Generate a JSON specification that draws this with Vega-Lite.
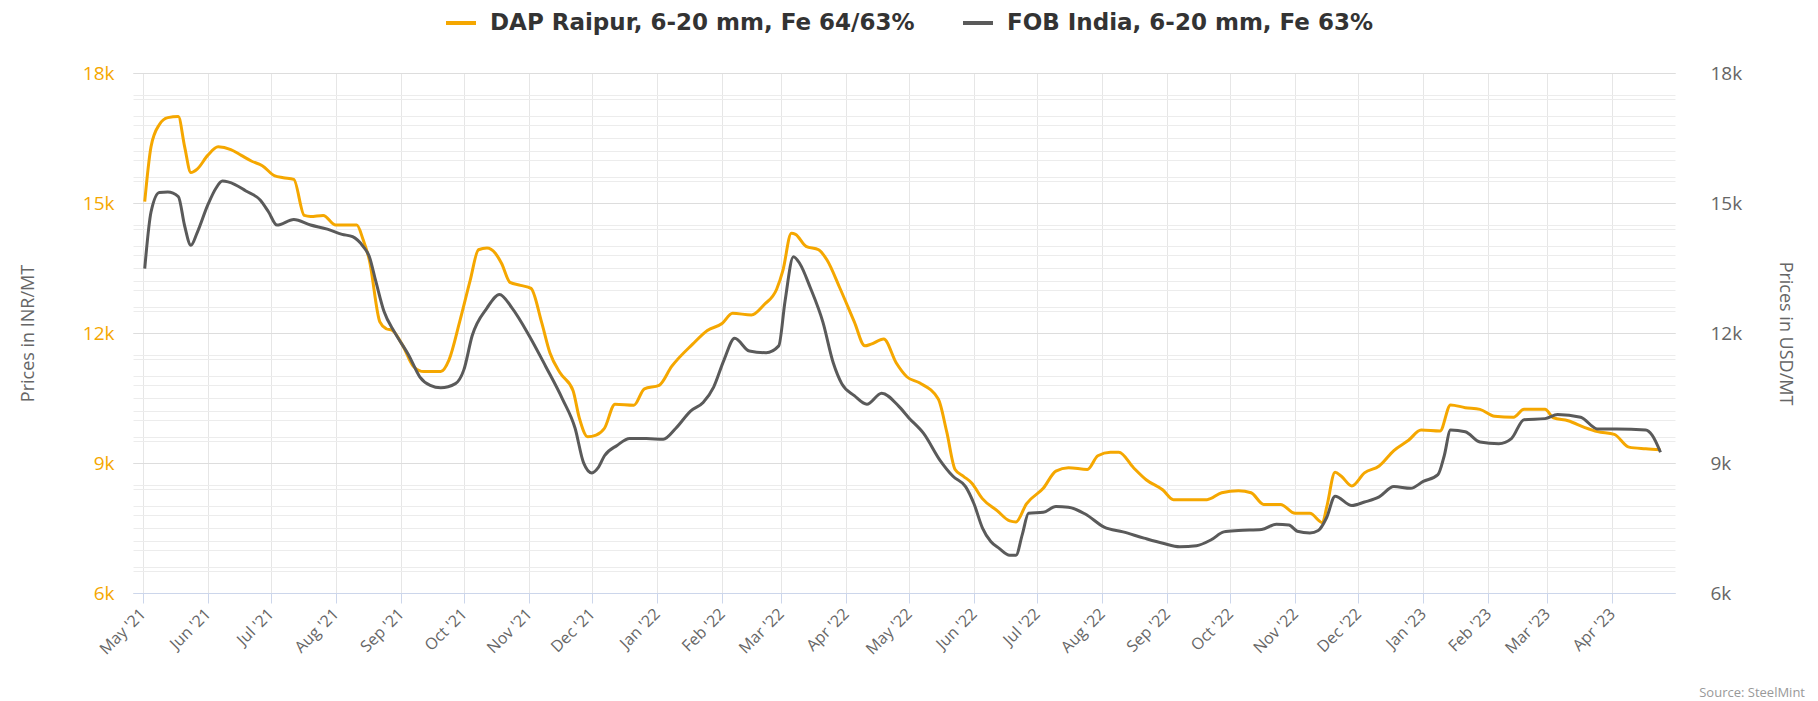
{
  "$schema": "https://vega.github.io/schema/vega-lite/v6.json",
  "width": 1542,
  "height": 520,
  "autosize": {"type": "none"},
  "padding": {"left": 133, "top": 73, "right": 143, "bottom": 108},
  "background": "white",
  "config": {"view": {"stroke": null}, "font": "Open Sans"},
  "title": {"text": "Source: SteelMint", "orient": "bottom", "anchor": "end", "frame": "group", "fontSize": 13, "fontWeight": "normal", "color": "#999999", "dx": 130, "offset": 30},
  "datasets": {
    "dap": [
      {"date": "2021-05-02", "price": 15030},
      {"date": "2021-05-05", "price": 16300},
      {"date": "2021-05-09", "price": 16812},
      {"date": "2021-05-13", "price": 16970},
      {"date": "2021-05-18", "price": 16994},
      {"date": "2021-05-21", "price": 16300},
      {"date": "2021-05-24", "price": 15703},
      {"date": "2021-05-27", "price": 15782},
      {"date": "2021-06-01", "price": 16099},
      {"date": "2021-06-06", "price": 16297},
      {"date": "2021-06-12", "price": 16234},
      {"date": "2021-06-17", "price": 16099},
      {"date": "2021-06-22", "price": 15964},
      {"date": "2021-06-27", "price": 15861},
      {"date": "2021-07-03", "price": 15624},
      {"date": "2021-07-07", "price": 15584},
      {"date": "2021-07-12", "price": 15545},
      {"date": "2021-07-17", "price": 14713},
      {"date": "2021-07-20", "price": 14689},
      {"date": "2021-07-26", "price": 14713},
      {"date": "2021-08-01", "price": 14491},
      {"date": "2021-08-11", "price": 14491},
      {"date": "2021-08-14", "price": 14158},
      {"date": "2021-08-17", "price": 13683},
      {"date": "2021-08-22", "price": 12257},
      {"date": "2021-08-25", "price": 12099},
      {"date": "2021-08-28", "price": 12059},
      {"date": "2021-09-02", "price": 11703},
      {"date": "2021-09-07", "price": 11228},
      {"date": "2021-09-12", "price": 11109},
      {"date": "2021-09-20", "price": 11109},
      {"date": "2021-09-24", "price": 11386},
      {"date": "2021-09-29", "price": 12257},
      {"date": "2021-10-04", "price": 13208},
      {"date": "2021-10-08", "price": 13921},
      {"date": "2021-10-12", "price": 13960},
      {"date": "2021-10-16", "price": 13842},
      {"date": "2021-10-19", "price": 13604},
      {"date": "2021-10-23", "price": 13168},
      {"date": "2021-10-28", "price": 13100},
      {"date": "2021-11-02", "price": 13030},
      {"date": "2021-11-07", "price": 12257},
      {"date": "2021-11-11", "price": 11545},
      {"date": "2021-11-16", "price": 11069},
      {"date": "2021-11-22", "price": 10673},
      {"date": "2021-11-25", "price": 10040},
      {"date": "2021-11-29", "price": 9604},
      {"date": "2021-12-03", "price": 9643},
      {"date": "2021-12-07", "price": 9802},
      {"date": "2021-12-12", "price": 10356},
      {"date": "2021-12-21", "price": 10333},
      {"date": "2021-12-26", "price": 10713},
      {"date": "2022-01-02", "price": 10792},
      {"date": "2022-01-08", "price": 11228},
      {"date": "2022-01-18", "price": 11743},
      {"date": "2022-01-25", "price": 12059},
      {"date": "2022-02-01", "price": 12218},
      {"date": "2022-02-06", "price": 12455},
      {"date": "2022-02-15", "price": 12416},
      {"date": "2022-02-21", "price": 12653},
      {"date": "2022-02-27", "price": 13010},
      {"date": "2022-03-02", "price": 13446},
      {"date": "2022-03-06", "price": 14301},
      {"date": "2022-03-08", "price": 14277},
      {"date": "2022-03-13", "price": 14000},
      {"date": "2022-03-19", "price": 13921},
      {"date": "2022-03-23", "price": 13683},
      {"date": "2022-03-29", "price": 13050},
      {"date": "2022-04-05", "price": 12257},
      {"date": "2022-04-10", "price": 11703},
      {"date": "2022-04-13", "price": 11743},
      {"date": "2022-04-19", "price": 11861},
      {"date": "2022-04-25", "price": 11307},
      {"date": "2022-04-30", "price": 10990},
      {"date": "2022-05-06", "price": 10850},
      {"date": "2022-05-15", "price": 10475},
      {"date": "2022-05-19", "price": 9723},
      {"date": "2022-05-23", "price": 8851},
      {"date": "2022-05-27", "price": 8693},
      {"date": "2022-05-31", "price": 8535},
      {"date": "2022-06-05", "price": 8178},
      {"date": "2022-06-12", "price": 7901},
      {"date": "2022-06-18", "price": 7663},
      {"date": "2022-06-21", "price": 7640},
      {"date": "2022-06-26", "price": 8059},
      {"date": "2022-07-04", "price": 8416},
      {"date": "2022-07-10", "price": 8812},
      {"date": "2022-07-16", "price": 8891},
      {"date": "2022-07-25", "price": 8851},
      {"date": "2022-07-30", "price": 9168},
      {"date": "2022-08-05", "price": 9248},
      {"date": "2022-08-09", "price": 9248},
      {"date": "2022-08-16", "price": 8891},
      {"date": "2022-08-22", "price": 8614},
      {"date": "2022-08-30", "price": 8376},
      {"date": "2022-09-04", "price": 8154},
      {"date": "2022-09-20", "price": 8154},
      {"date": "2022-09-27", "price": 8313},
      {"date": "2022-10-05", "price": 8360},
      {"date": "2022-10-11", "price": 8313},
      {"date": "2022-10-17", "price": 8044},
      {"date": "2022-10-25", "price": 8044},
      {"date": "2022-11-01", "price": 7838},
      {"date": "2022-11-08", "price": 7838},
      {"date": "2022-11-14", "price": 7624},
      {"date": "2022-11-16", "price": 7980},
      {"date": "2022-11-20", "price": 8788},
      {"date": "2022-11-23", "price": 8693},
      {"date": "2022-11-28", "price": 8471},
      {"date": "2022-12-04", "price": 8772},
      {"date": "2022-12-11", "price": 8931},
      {"date": "2022-12-18", "price": 9287},
      {"date": "2022-12-25", "price": 9525},
      {"date": "2022-12-31", "price": 9762},
      {"date": "2023-01-09", "price": 9739},
      {"date": "2023-01-14", "price": 10341},
      {"date": "2023-01-21", "price": 10277},
      {"date": "2023-01-28", "price": 10238},
      {"date": "2023-02-04", "price": 10079},
      {"date": "2023-02-13", "price": 10055},
      {"date": "2023-02-18", "price": 10238},
      {"date": "2023-02-28", "price": 10238},
      {"date": "2023-03-04", "price": 10040},
      {"date": "2023-03-11", "price": 9976},
      {"date": "2023-03-19", "price": 9818},
      {"date": "2023-03-25", "price": 9723},
      {"date": "2023-04-02", "price": 9660},
      {"date": "2023-04-09", "price": 9366},
      {"date": "2023-04-17", "price": 9327},
      {"date": "2023-04-24", "price": 9303}
    ],
    "fob": [
      {"date": "2021-05-02", "price": 13485},
      {"date": "2021-05-05", "price": 14792},
      {"date": "2021-05-09", "price": 15244},
      {"date": "2021-05-13", "price": 15251},
      {"date": "2021-05-18", "price": 15149},
      {"date": "2021-05-21", "price": 14475},
      {"date": "2021-05-24", "price": 14024},
      {"date": "2021-05-27", "price": 14317},
      {"date": "2021-06-01", "price": 14950},
      {"date": "2021-06-05", "price": 15347},
      {"date": "2021-06-08", "price": 15505},
      {"date": "2021-06-14", "price": 15426},
      {"date": "2021-06-19", "price": 15283},
      {"date": "2021-06-26", "price": 15069},
      {"date": "2021-06-30", "price": 14792},
      {"date": "2021-07-04", "price": 14491},
      {"date": "2021-07-12", "price": 14618},
      {"date": "2021-07-20", "price": 14491},
      {"date": "2021-07-28", "price": 14396},
      {"date": "2021-08-04", "price": 14277},
      {"date": "2021-08-09", "price": 14222},
      {"date": "2021-08-14", "price": 14000},
      {"date": "2021-08-17", "price": 13762},
      {"date": "2021-08-20", "price": 13208},
      {"date": "2021-08-24", "price": 12495},
      {"date": "2021-08-29", "price": 12020},
      {"date": "2021-09-05", "price": 11465},
      {"date": "2021-09-10", "price": 10990},
      {"date": "2021-09-15", "price": 10792},
      {"date": "2021-09-20", "price": 10737},
      {"date": "2021-09-27", "price": 10832},
      {"date": "2021-10-01", "price": 11149},
      {"date": "2021-10-05", "price": 11941},
      {"date": "2021-10-12", "price": 12574},
      {"date": "2021-10-18", "price": 12891},
      {"date": "2021-10-24", "price": 12574},
      {"date": "2021-11-01", "price": 11950},
      {"date": "2021-11-09", "price": 11228},
      {"date": "2021-11-17", "price": 10475},
      {"date": "2021-11-23", "price": 9802},
      {"date": "2021-11-27", "price": 9010},
      {"date": "2021-12-01", "price": 8772},
      {"date": "2021-12-04", "price": 8891},
      {"date": "2021-12-07", "price": 9168},
      {"date": "2021-12-13", "price": 9406},
      {"date": "2021-12-19", "price": 9564},
      {"date": "2021-12-27", "price": 9564},
      {"date": "2022-01-04", "price": 9548},
      {"date": "2022-01-10", "price": 9802},
      {"date": "2022-01-17", "price": 10198},
      {"date": "2022-01-23", "price": 10396},
      {"date": "2022-01-28", "price": 10752},
      {"date": "2022-02-02", "price": 11386},
      {"date": "2022-02-07", "price": 11877},
      {"date": "2022-02-14", "price": 11584},
      {"date": "2022-02-22", "price": 11545},
      {"date": "2022-02-28", "price": 11703},
      {"date": "2022-03-03", "price": 12733},
      {"date": "2022-03-07", "price": 13762},
      {"date": "2022-03-10", "price": 13604},
      {"date": "2022-03-15", "price": 13050},
      {"date": "2022-03-21", "price": 12257},
      {"date": "2022-03-26", "price": 11307},
      {"date": "2022-03-30", "price": 10832},
      {"date": "2022-04-05", "price": 10554},
      {"date": "2022-04-11", "price": 10356},
      {"date": "2022-04-18", "price": 10610},
      {"date": "2022-04-26", "price": 10317},
      {"date": "2022-05-01", "price": 10040},
      {"date": "2022-05-08", "price": 9683},
      {"date": "2022-05-16", "price": 9050},
      {"date": "2022-05-22", "price": 8693},
      {"date": "2022-05-28", "price": 8455},
      {"date": "2022-06-01", "price": 8059},
      {"date": "2022-06-05", "price": 7505},
      {"date": "2022-06-09", "price": 7188},
      {"date": "2022-06-13", "price": 7030},
      {"date": "2022-06-18", "price": 6871},
      {"date": "2022-06-21", "price": 6871},
      {"date": "2022-06-24", "price": 7347},
      {"date": "2022-06-27", "price": 7838},
      {"date": "2022-07-04", "price": 7861},
      {"date": "2022-07-10", "price": 7996},
      {"date": "2022-07-16", "price": 7980},
      {"date": "2022-07-24", "price": 7822},
      {"date": "2022-08-02", "price": 7521},
      {"date": "2022-08-11", "price": 7410},
      {"date": "2022-08-21", "price": 7267},
      {"date": "2022-08-30", "price": 7149},
      {"date": "2022-09-07", "price": 7069},
      {"date": "2022-09-15", "price": 7093},
      {"date": "2022-09-22", "price": 7228},
      {"date": "2022-09-28", "price": 7410},
      {"date": "2022-10-05", "price": 7442},
      {"date": "2022-10-16", "price": 7465},
      {"date": "2022-10-23", "price": 7584},
      {"date": "2022-10-29", "price": 7568},
      {"date": "2022-11-02", "price": 7426},
      {"date": "2022-11-08", "price": 7386},
      {"date": "2022-11-12", "price": 7442},
      {"date": "2022-11-16", "price": 7743},
      {"date": "2022-11-20", "price": 8234},
      {"date": "2022-11-28", "price": 8020},
      {"date": "2022-12-04", "price": 8099},
      {"date": "2022-12-11", "price": 8218},
      {"date": "2022-12-18", "price": 8455},
      {"date": "2022-12-26", "price": 8416},
      {"date": "2023-01-01", "price": 8574},
      {"date": "2023-01-08", "price": 8733},
      {"date": "2023-01-11", "price": 9168},
      {"date": "2023-01-14", "price": 9762},
      {"date": "2023-01-21", "price": 9723},
      {"date": "2023-01-28", "price": 9485},
      {"date": "2023-02-06", "price": 9446},
      {"date": "2023-02-12", "price": 9564},
      {"date": "2023-02-18", "price": 10000},
      {"date": "2023-02-28", "price": 10024},
      {"date": "2023-03-06", "price": 10119},
      {"date": "2023-03-17", "price": 10055},
      {"date": "2023-03-25", "price": 9786},
      {"date": "2023-04-03", "price": 9786},
      {"date": "2023-04-17", "price": 9762},
      {"date": "2023-04-20", "price": 9644},
      {"date": "2023-04-24", "price": 9248}
    ]
  },
  "encoding": {
    "x": {
      "field": "date", "type": "temporal",
      "scale": {"domain": [{"year": 2021, "month": 4, "date": 26, "hours": 10}, {"year": 2023, "month": 4, "date": 30, "hours": 22}]},
      "axis": {
        "title": null, "format": "%b '%y", "tickCount": {"interval": "month", "step": 1},
        "labelAngle": -45, "labelAlign": "right", "labelBaseline": "middle",
        "labelFontSize": 16, "labelColor": "#666666", "labelPadding": 8,
        "domainColor": "#ccd6eb", "tickColor": "#ccd6eb", "tickSize": 10,
        "gridColor": "#e6e6e6", "grid": true, "labelFlush": false, "labelOverlap": false
      }
    }
  },
  "layer": [
    {
      "data": {"name": "dap"},
      "mark": {"type": "line", "interpolate": "monotone", "strokeWidth": 3},
      "encoding": {
        "y": {
          "field": "price", "type": "quantitative",
          "scale": {"domain": [6000, 18000], "nice": false},
          "axis": {
            "orient": "left", "title": "Prices in INR/MT", "titleColor": "#666666", "titleFontSize": 18, "titleFontWeight": "normal", "titlePadding": 45,
            "values": [6000, 6500, 7000, 7500, 8000, 8500, 9000, 9500, 10000, 10500, 11000, 11500, 12000, 12500, 13000, 13500, 14000, 14500, 15000, 15500, 16000, 16500, 17000, 17500, 18000],
            "labelExpr": "datum.value % 3000 === 0 ? format(datum.value, '~s') : ''",
            "labelColor": "#f5a700", "labelFontSize": 19, "labelPadding": 19,
            "domain": false, "ticks": false, "grid": true,
            "gridColor": {"condition": {"test": "datum.value % 3000 === 0", "value": "#dddddd"}, "value": "#ececec"}
          }
        },
        "color": {
          "datum": "DAP Raipur, 6-20 mm, Fe 64/63%",
          "scale": {"domain": ["DAP Raipur, 6-20 mm, Fe 64/63%", "FOB India, 6-20 mm, Fe 63%"], "range": ["#f5a700", "#5a5a5a"]},
          "legend": {
            "orient": "none", "direction": "horizontal", "legendX": 311, "legendY": -67, "title": null,
            "symbolType": "stroke", "symbolStrokeWidth": 4, "symbolSize": 900,
            "labelFont": "DejaVu Sans", "labelFontSize": 23, "labelFontWeight": "bold", "labelColor": "#333333", "labelOffset": 12, "columnPadding": 40, "labelLimit": 0
          }
        }
      }
    },
    {
      "data": {"name": "fob"},
      "mark": {"type": "line", "interpolate": "monotone", "strokeWidth": 3},
      "encoding": {
        "y": {
          "field": "price", "type": "quantitative",
          "scale": {"domain": [6000, 18000], "nice": false},
          "axis": {
            "orient": "right", "title": "Prices in USD/MT", "titleColor": "#666666", "titleFontSize": 18, "titleFontWeight": "normal", "titleAngle": 90, "titlePadding": 34,
            "values": [6000, 6600, 7200, 7800, 8400, 9000, 9600, 10200, 10800, 11400, 12000, 12600, 13200, 13800, 14400, 15000, 15600, 16200, 16800, 17400, 18000],
            "labelExpr": "datum.value % 3000 === 0 ? format(datum.value, '~s') : ''",
            "labelColor": "#666666", "labelFontSize": 19, "labelPadding": 35,
            "domain": false, "ticks": false, "grid": true,
            "gridColor": {"condition": {"test": "datum.value % 3000 === 0", "value": "#dddddd"}, "value": "#ececec"}
          }
        },
        "color": {"datum": "FOB India, 6-20 mm, Fe 63%"}
      }
    }
  ],
  "resolve": {"scale": {"y": "independent"}}
}
